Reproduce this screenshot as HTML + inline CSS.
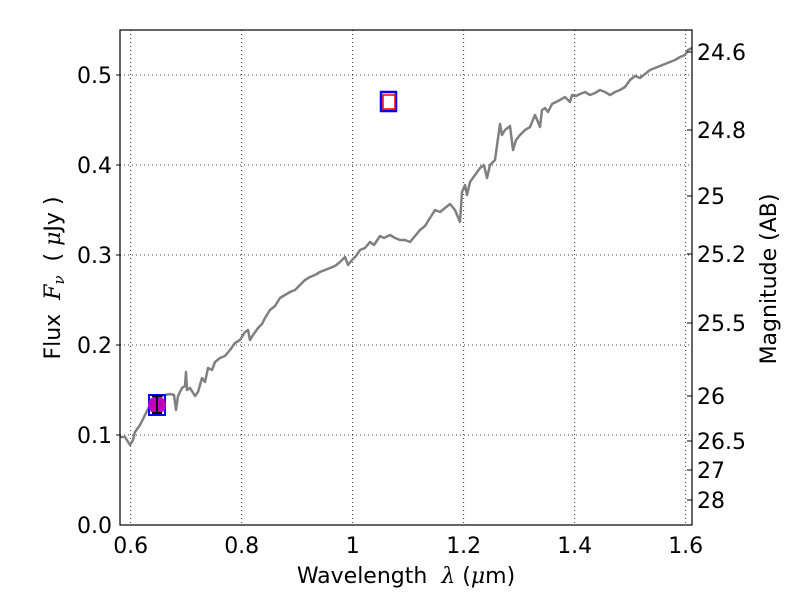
<!DOCTYPE html>
<html><head><meta charset="utf-8"><style>body{margin:0;background:#fff}svg{display:block}</style></head><body>
<svg width="800" height="600" viewBox="0 0 800 600" xmlns="http://www.w3.org/2000/svg" font-family="DejaVu Sans, Liberation Sans, sans-serif">
<rect width="800" height="600" fill="#fff"/>
<g stroke="#000" stroke-width="0.8" stroke-dasharray="1,3">
<line x1="130.7" y1="30" x2="130.7" y2="525"/><line x1="241.7" y1="30" x2="241.7" y2="525"/><line x1="352.7" y1="30" x2="352.7" y2="525"/><line x1="463.7" y1="30" x2="463.7" y2="525"/><line x1="574.7" y1="30" x2="574.7" y2="525"/><line x1="685.7" y1="30" x2="685.7" y2="525"/>
<line x1="120" y1="435" x2="692" y2="435"/><line x1="120" y1="345" x2="692" y2="345"/><line x1="120" y1="255" x2="692" y2="255"/><line x1="120" y1="165" x2="692" y2="165"/><line x1="120" y1="75" x2="692" y2="75"/>
</g>
<polyline fill="none" stroke="#808080" stroke-width="2.5" stroke-linejoin="round" points="120,437 125,437 130,445 133,440 135,432 140,425 145,415 150,405 155,398 160,397 165,395 170,394 174,395 176,410 178,396 182,388 185,386 186,372 187,390 190,388 195,396 198,392 202,378 205,382 208,368 212,370 215,362 220,358 225,356 230,350 235,343 240,340 245,332 248,330 250,340 253,335 258,328 262,324 265,318 270,310 275,306 280,298 285,295 290,292 295,290 300,285 305,280 310,277 315,275 320,272 325,270 330,268 335,266 340,262 345,257 348,265 352,260 356,256 360,250 365,248 370,242 374,245 380,236 384,238 390,235 395,238 400,240 405,240 410,242 415,236 420,230 425,226 430,218 435,210 440,212 445,208 450,204 455,210 460,222 462,192 465,185 467,195 470,182 475,175 480,168 484,165 487,178 490,165 495,160 500,124 502,135 505,130 510,126 513,150 516,140 520,135 525,130 530,127 535,115 538,122 540,127 542,110 545,108 548,112 552,104 556,102 560,100 565,97 570,102 572,95 576,96 580,94 585,92 590,95 595,93 600,90 605,92 610,95 615,92 620,90 625,87 630,80 635,76 640,78 645,74 650,70 655,68 660,66 665,64 670,62 675,60 680,57 685,55 688,50 692,48"/>
<rect x="149" y="395" width="16" height="20" fill="none" stroke="#0000ff" stroke-width="2"/>
<circle cx="157" cy="405" r="9" fill="#bf00bf"/>
<g stroke="#000" stroke-width="2"><line x1="157" y1="396" x2="157" y2="413"/><line x1="152" y1="396" x2="162" y2="396"/><line x1="152" y1="413" x2="162" y2="413"/></g>
<rect x="381" y="92" width="15" height="19" fill="none" stroke="#0000ff" stroke-width="2.5"/>
<rect x="383" y="95" width="12" height="14" fill="none" stroke="#ff0000" stroke-width="1.5"/>
<rect x="120" y="30" width="572" height="495" fill="none" stroke="#000" stroke-width="1.2"/>
<g stroke="#000" stroke-width="1">
<line x1="120" y1="435" x2="116" y2="435"/><line x1="120" y1="345" x2="116" y2="345"/><line x1="120" y1="255" x2="116" y2="255"/><line x1="120" y1="165" x2="116" y2="165"/><line x1="120" y1="75" x2="116" y2="75"/>
<line x1="692" y1="52" x2="687" y2="52"/><line x1="692" y1="130" x2="687" y2="130"/><line x1="692" y1="196" x2="687" y2="196"/><line x1="692" y1="254" x2="687" y2="254"/><line x1="692" y1="323" x2="687" y2="323"/><line x1="692" y1="396" x2="687" y2="396"/><line x1="692" y1="441" x2="687" y2="441"/><line x1="692" y1="470" x2="687" y2="470"/><line x1="692" y1="500" x2="687" y2="500"/>
</g>
<g font-size="22" fill="#000" text-anchor="end">
<text x="112" y="533">0.0</text><text x="112" y="443">0.1</text><text x="112" y="353">0.2</text><text x="112" y="263">0.3</text><text x="112" y="173">0.4</text><text x="112" y="83">0.5</text>
</g>
<g font-size="22" fill="#000" text-anchor="middle">
<text x="130.7" y="553">0.6</text><text x="241.7" y="553">0.8</text><text x="352.7" y="553">1</text><text x="463.7" y="553">1.2</text><text x="574.7" y="553">1.4</text><text x="685.7" y="553">1.6</text>
</g>
<g font-size="22" fill="#000">
<text x="697" y="60">24.6</text><text x="697" y="138">24.8</text><text x="697" y="204">25</text><text x="697" y="262">25.2</text><text x="697" y="331">25.5</text><text x="697" y="404">26</text><text x="697" y="449">26.5</text><text x="697" y="478">27</text><text x="697" y="508">28</text>
</g>
<text x="406" y="583" font-size="22" text-anchor="middle" xml:space="preserve">Wavelength  <tspan font-style="italic" font-family="DejaVu Serif, serif">λ</tspan> (<tspan font-style="italic" font-family="DejaVu Serif, serif">μ</tspan>m)</text>
<text transform="translate(60,278) rotate(-90)" font-size="22" text-anchor="middle" xml:space="preserve">Flux  <tspan font-style="italic" font-family="DejaVu Serif, serif">F<tspan font-size="15" dy="4">ν</tspan></tspan><tspan dy="-4">  ( </tspan><tspan font-style="italic" font-family="DejaVu Serif, serif">μ</tspan>Jy )</text>
<text transform="translate(776,279) rotate(-90)" font-size="22" text-anchor="middle">Magnitude (AB)</text>
</svg>
</body></html>
